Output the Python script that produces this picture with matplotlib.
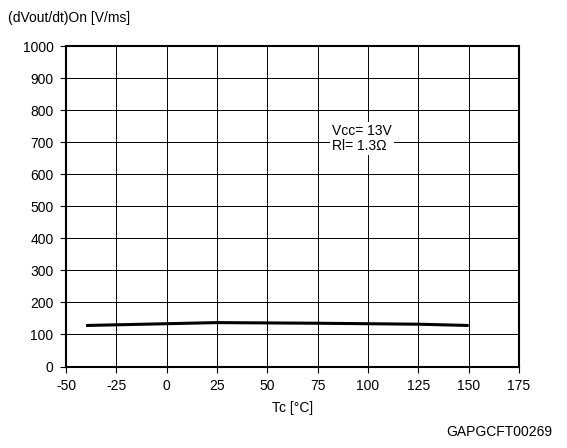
import matplotlib
matplotlib.use("Agg")
import matplotlib.pyplot as plt

plt.rcParams['font.family'] = ['Liberation Sans', 'DejaVu Sans']
plt.rcParams['axes.unicode_minus'] = False

# Turn-on slew rate versus case temperature
tc = [-40, 25, 75, 125, 150]
dvdt_on = [128, 137, 135, 132, 128]

x_ticks = [-50, -25, 0, 25, 50, 75, 100, 125, 150, 175]
y_ticks = [0, 100, 200, 300, 400, 500, 600, 700, 800, 900, 1000]

fig = plt.figure(figsize=(5.67, 4.48), dpi=100)
ax = fig.add_axes([0.1164, 0.1819, 0.799, 0.7154])

ax.plot(tc, dvdt_on, color='black', linewidth=2.2, solid_capstyle='butt')

ax.set_xlim(-50, 175)
ax.set_ylim(0, 1000)
ax.set_xticks(x_ticks)
ax.set_yticks(y_ticks)
ax.tick_params(labelsize=10, length=4, width=0.8, direction='out', pad=5)
ax.grid(True, color='black', linewidth=0.7)
for s in ax.spines.values():
    s.set_linewidth(1.5)

ax.set_xlabel('Tc [°C]', fontsize=10, labelpad=6)
fig.text(0.014, 0.96, '(dVout/dt)On [V/ms]', fontsize=10, ha='left', va='center')
fig.text(0.974, 0.035, 'GAPGCFT00269', fontsize=10, ha='right', va='center')

ax.text(82, 711, 'Vcc= 13V\nRl= 1.3Ω', fontsize=10, ha='left', va='center',
        linespacing=1.1,
        bbox=dict(facecolor='white', edgecolor='none', pad=1.5))

fig.savefig('out.png', dpi=100)
